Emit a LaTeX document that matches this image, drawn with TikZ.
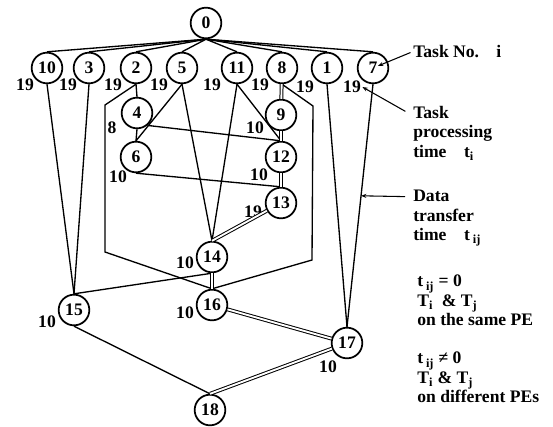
\documentclass[tikz,border=0pt]{standalone}
\usepackage{fontspec}
\setmainfont{Liberation Serif}
\usetikzlibrary{arrows.meta, positioning, calc}
\tikzset{
    font=\bfseries\fontsize{13.2}{14.5}\selectfont,
    >={Stealth[length=4pt, width=3pt]},
    % Shapes
    task/.style={circle, draw, line width=1.3pt, minimum size=23pt, inner sep=0pt},
    wt/.style={inner sep=1pt},
    note/.style={anchor=north west, align=left, inner sep=0pt},
    % Edges
    dep/.style={line width=1pt},
    same/.style={double, line width=0.75pt, double distance=1.4pt},
    pointer/.style={->, line width=0.8pt, shorten <=2pt}
}

\begin{document}
\begin{tikzpicture}[x=0.75pt, y=-0.75pt]

\useasboundingbox (0,0) rectangle (553,426);

% Tasks
\node[task] (n0) at (206,23) {0};
\node[task] (n10) at (47,68) {10};
\node[task] (n3) at (89,68) {3};
\node[task] (n2) at (136,68) {2};
\node[task] (n5) at (182,68) {5};
\node[task] (n11) at (237,68) {11};
\node[task] (n8) at (282,68) {8};
\node[task] (n1) at (327,68) {1};
\node[task] (n7) at (373,68) {7};
\node[task] (n4) at (137,113) {4};
\node[task] (n6) at (136,157) {6};
\node[task] (n9) at (281,115) {9};
\node[task] (n12) at (281,157) {12};
\node[task] (n13) at (281,203) {13};
\node[task] (n14) at (212,257) {14};
\node[task] (n16) at (212,305) {16};
\node[task] (n15) at (74,310) {15};
\node[task] (n17) at (347,343) {17};
\node[task] (n18) at (210,410) {18};

% Processing times
\node[wt] (w10) at (25,85) {19};
\node[wt] (w3) at (68,85) {19};
\node[wt] (w2) at (113,85) {19};
\node[wt] (w5) at (159,85) {19};
\node[wt] (w11) at (212,85) {19};
\node[wt] (w8) at (260,85) {19};
\node[wt] (w1) at (305,87) {19};
\node[wt] (w7) at (352,87) {19};
\node[wt] (w4) at (112,128) {8};
\node[wt] (w6) at (118,177) {10};
\node[wt] (w9) at (255,128) {10};
\node[wt] (w12) at (259,175) {10};
\node[wt] (w13) at (253,212) {19};
\node[wt] (w14) at (185,263) {10};
\node[wt] (w16) at (185,313) {10};
\node[wt] (w15) at (47,322) {10};
\node[wt] (w17) at (328,367) {10};

% Legend
\node[note] (tn) at (413,45) {Task No.\hspace{13pt}i};
\node[note] (tp) at (413,106) {Task\\processing\\time\quad t\textsubscript{i}};
\node[note] (dtr) at (413,190) {Data\\transfer\\time\quad t\,\textsubscript{ij}};
\node[note] (pe1) at (417,275) {t\,\textsubscript{ij} = 0\\T\textsubscript{i}\ \ \& T\textsubscript{j}\\on the same PE};
\node[note] (pe2) at (417,352) {t\,\textsubscript{ij} ≠ 0\\T\textsubscript{i} \& T\textsubscript{j}\\on different PEs};

\coordinate (l1) at (105,105);
\coordinate (l2) at (105,252);
\coordinate (r1) at (313,106);
\coordinate (r2) at (312,260);
\coordinate (dt) at ($(n7.south)!0.46!(n17.north)$);

\foreach \c in {10,3,2,5,11,8,1,7}
    \draw[dep] (n0.south) -- (n\c.north);

\draw[dep] (n10.south) -- (n15.north);
\draw[dep] (n3.south) -- (n15.north);
\draw[dep] (n2.south) -- (n4.north);
\draw[dep] (n4.south) -- (n6.north);
\draw[dep] (n5.south) -- (n6.north);
\draw[dep] (n5.south) -- (n14.north);
\draw[dep] (n11.south) -- (n14.north);
\draw[dep] (n11.south) -- (n12.north);
\draw[dep] (n4.-50) -- (n12.north);
\draw[dep] (n6.south) -- (n13.north);
\draw[dep] (n14.south) -- (n15.north);
\draw[dep] (n2.south) -- (l1) -- (l2) -- (n16.north);
\draw[dep] (n8.south) -- (r1) -- (r2) -- (n16.north);
\draw[dep] (n1.south) -- (n17.north);
\draw[dep] (n7.south) -- (n17.north);
\draw[dep] (n15.south) -- (n18.north);

\draw[same] (n8) -- (n9);
\draw[same] (n9) -- (n12);
\draw[same] (n12) -- (n13);
\draw[same] (n13) -- (n14.north);
\draw[same] (n14) -- (n16);
\draw[same] (n16) -- (n17);
\draw[same] (n17) -- (n18.north);

\draw[pointer, shorten >=4pt] (tn.west) -- (n7.center);
\draw[pointer] ([xshift=-4pt, yshift=-5pt]tp.north west) -- (w7.east);
\draw[pointer] ([xshift=-4pt, yshift=-5pt]dtr.north west) -- (dt);

\end{tikzpicture}
\end{document}
